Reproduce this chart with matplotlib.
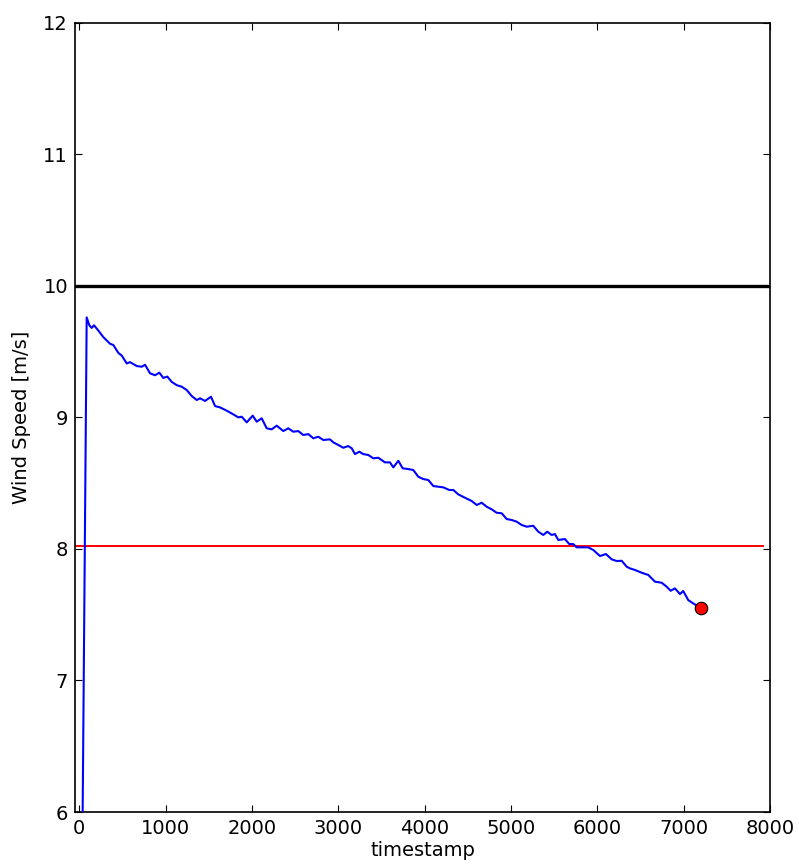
import matplotlib
matplotlib.use("Agg")
import matplotlib.pyplot as plt

# ---- data ----
timestamp = [0, 85, 116, 143, 170, 220, 278, 355, 394, 452, 491, 549, 587, 665, 723, 761,
             819, 877, 926, 973, 1019, 1070, 1128, 1186, 1244, 1302, 1360, 1398, 1456, 1525,
             1572, 1629, 1707, 1783, 1841, 1881, 1939, 2008, 2055, 2112, 2170, 2228, 2286,
             2363, 2420, 2478, 2536, 2594, 2652, 2710, 2768, 2826, 2903, 2942, 3000, 3057,
             3115, 3155, 3193, 3243, 3289, 3347, 3405, 3463, 3540, 3598, 3637, 3695, 3745,
             3810, 3868, 3926, 3984, 4042, 4100, 4158, 4216, 4285, 4332, 4389, 4467, 4545,
             4603, 4660, 4718, 4776, 4834, 4892, 4950, 5008, 5066, 5124, 5182, 5258, 5316,
             5374, 5420, 5471, 5509, 5548, 5625, 5675, 5721, 5761, 5837, 5895, 5953, 6031,
             6100, 6166, 6224, 6282, 6340, 6378, 6436, 6514, 6590, 6668, 6745, 6803, 6849,
             6899, 6957, 6995, 7053, 7111, 7200]
wind_speed = [2.90, 9.76, 9.70, 9.68, 9.70, 9.66, 9.61, 9.56, 9.55, 9.49, 9.47, 9.41, 9.42,
              9.39, 9.385, 9.40, 9.335, 9.32, 9.34, 9.30, 9.31, 9.27, 9.245, 9.233, 9.208,
              9.162, 9.132, 9.145, 9.125, 9.157, 9.086, 9.076, 9.051, 9.023, 9.00, 9.005,
              8.962, 9.013, 8.967, 8.993, 8.917, 8.909, 8.937, 8.896, 8.917, 8.891, 8.896,
              8.866, 8.873, 8.841, 8.853, 8.828, 8.833, 8.81, 8.79, 8.769, 8.782, 8.765,
              8.721, 8.739, 8.721, 8.714, 8.689, 8.693, 8.658, 8.658, 8.62, 8.67, 8.613,
              8.607, 8.60, 8.549, 8.531, 8.524, 8.478, 8.473, 8.468, 8.448, 8.448, 8.415,
              8.389, 8.364, 8.334, 8.351, 8.321, 8.301, 8.275, 8.271, 8.227, 8.22, 8.207,
              8.182, 8.169, 8.176, 8.131, 8.106, 8.131, 8.106, 8.113, 8.068, 8.075, 8.037,
              8.037, 8.012, 8.012, 8.012, 7.992, 7.946, 7.961, 7.921, 7.908, 7.91, 7.865,
              7.852, 7.84, 7.819, 7.802, 7.751, 7.743, 7.713, 7.682, 7.70, 7.657, 7.68,
              7.611, 7.586, 7.548]
rated_speed = 10.0
target_speed = 8.02
current_t = 7200
current_v = 7.548
x_ticks = [0, 1000, 2000, 3000, 4000, 5000, 6000, 7000, 8000]
y_ticks = [6, 7, 8, 9, 10, 11, 12]

plt.rcParams['font.family'] = ['DejaVu Sans']
plt.rcParams['font.size'] = 14

fig = plt.figure(figsize=(7.99, 8.68), dpi=100)
ax = fig.add_axes([0.0939, 0.0645, 0.8698, 0.9093])

ax.plot(timestamp, wind_speed, color='#0000ff', lw=1.5, zorder=3)
ax.axhline(rated_speed, color='black', lw=2.4, zorder=2)
ax.axhline(target_speed, xmin=0, xmax=0.99, color='#ff0000', lw=1.4, zorder=2)
ax.plot([current_t], [current_v], 'o', color='#ff0000', markeredgecolor='black',
        markeredgewidth=0.8, markersize=9, zorder=4)

ax.set_xlim(-50, 8000)
ax.set_ylim(6, 12)
ax.set_xticks(x_ticks)
ax.set_yticks(y_ticks)
ax.tick_params(direction='in', top=True, right=True, length=5, width=0.8,
               labelsize=14, pad=5)
for s in ax.spines.values():
    s.set_linewidth(1.2)
ax.set_xlabel('timestamp', fontsize=14, labelpad=2)
ax.set_ylabel('Wind Speed [m/s]', fontsize=14, labelpad=9)

fig.savefig('out.png', dpi=100, facecolor='white')
